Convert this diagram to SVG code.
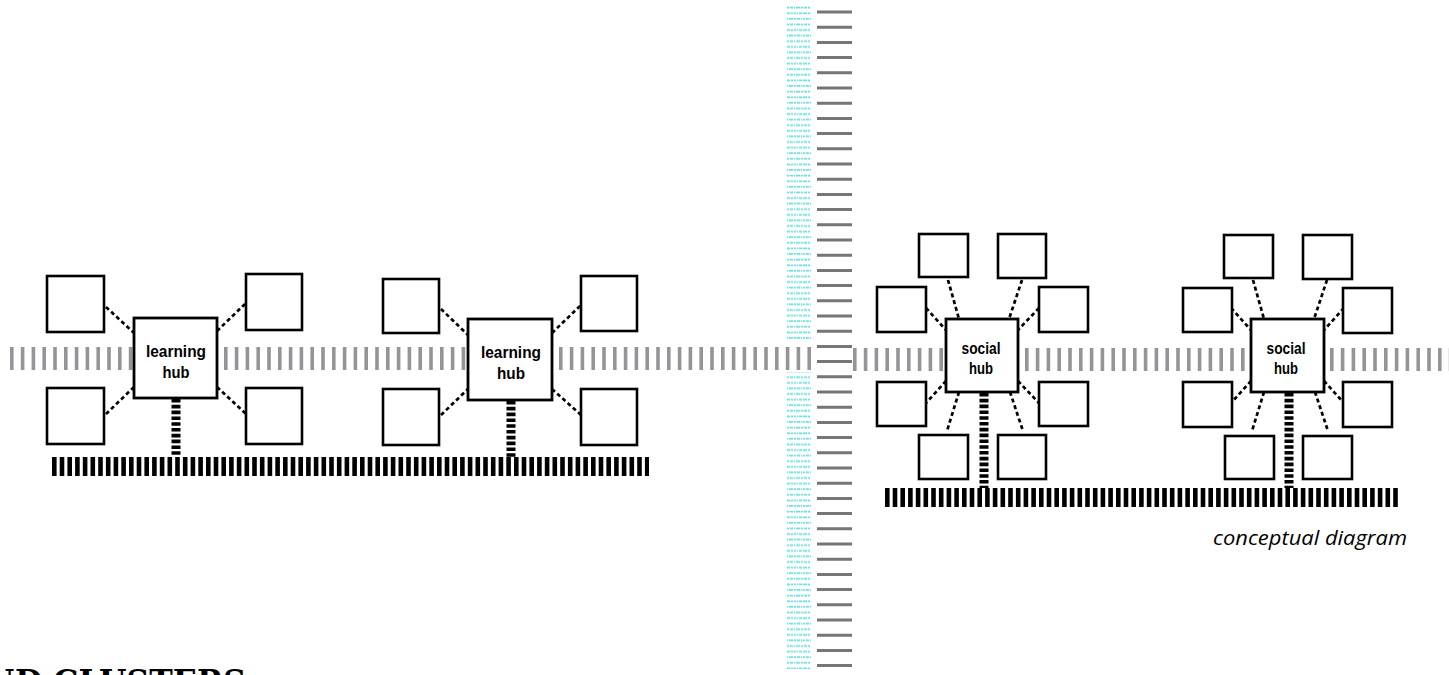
<svg xmlns="http://www.w3.org/2000/svg" width="1449" height="675" viewBox="0 0 1449 675">
<style>
.box{fill:#fff;stroke:#000;stroke-width:2.6}
.hub{fill:#fff;stroke:#000;stroke-width:2.8}
.dash{stroke:#000;stroke-width:2.7;stroke-dasharray:4 3;fill:none}
.thick{stroke:#000;stroke-width:9;stroke-dasharray:3.6 2.2;fill:none}
.band{stroke:#969399;stroke-width:23;stroke-dasharray:3.6 7.2;fill:none}
.base{stroke:#000;stroke-width:19;stroke-dasharray:4.6 3.1;fill:none}
.midg{stroke:#76767a;stroke-width:35;stroke-dasharray:3 12.2;fill:none}
.lbl{font-family:"Liberation Sans Narrow","Liberation Sans",Arial,sans-serif;font-weight:bold;font-size:17px;fill:#000;text-anchor:middle}
.cap{font-family:"Open Sans","Liberation Sans",sans-serif;font-style:italic;font-size:20px;fill:#000}
.title{font-family:"DejaVu Serif","Liberation Serif",serif;font-weight:bold;font-size:32px;fill:#000}
.cy{stroke:#5fe2ea;stroke-width:1.8}
</style>
<defs>
<pattern id="cyanTxt" patternUnits="userSpaceOnUse" x="787" y="6" width="26" height="16.8">
<line class="cy" x1="0" y1="1.6" x2="25" y2="1.6" stroke-dasharray="2 1 3 1 1 1 4 1 2 1 3 1 2"/>
<line class="cy" x1="0" y1="7.2" x2="23" y2="7.2" stroke-dasharray="3 1 2 1 2 1 1 1 3 1 4 1 2"/>
<line class="cy" x1="0" y1="12.8" x2="26" y2="12.8" stroke-dasharray="1 1 4 1 2 1 3 1 1 1 2 1 3"/>
</pattern>
</defs>

<g id="background-bands">
<line class="band" x1="10" y1="358.5" x2="134" y2="358.5"/>
<line class="band" x1="224" y1="358.5" x2="468" y2="358.5"/>
<line class="band" x1="559" y1="358.5" x2="812" y2="358.5"/>
<line class="band" x1="853" y1="359.5" x2="946" y2="359.5"/>
<line class="band" x1="1025" y1="359.5" x2="1251" y2="359.5"/>
<line class="band" x1="1330" y1="359.5" x2="1449" y2="359.5"/>
<line class="base" x1="52" y1="466.5" x2="649" y2="466.5"/>
<line class="base" x1="885" y1="497.5" x2="1399" y2="497.5"/>
</g>

<g id="middle-column">
<rect x="787" y="6" width="26" height="335" fill="url(#cyanTxt)"/>
<rect x="787" y="372" width="26" height="297" fill="url(#cyanTxt)"/>
<line class="midg" x1="834.5" y1="10.5" x2="834.5" y2="668"/>
</g>

<g id="connectors">
<line class="dash" x1="106" y1="307" x2="134" y2="333"/>
<line class="dash" x1="217" y1="331" x2="246" y2="303"/>
<line class="dash" x1="106" y1="414" x2="134" y2="387"/>
<line class="dash" x1="217" y1="387" x2="246" y2="414"/>
<line class="thick" x1="176" y1="399" x2="176" y2="457"/>
<line class="dash" x1="441" y1="309" x2="468" y2="335"/>
<line class="dash" x1="552" y1="333" x2="581" y2="305"/>
<line class="dash" x1="441" y1="415" x2="468" y2="389"/>
<line class="dash" x1="552" y1="389" x2="581" y2="415"/>
<line class="thick" x1="511" y1="401" x2="511" y2="457"/>
<line class="dash" x1="948" y1="280" x2="959" y2="319"/>
<line class="dash" x1="1022" y1="280" x2="1009" y2="319"/>
<line class="dash" x1="926" y1="308" x2="946" y2="330"/>
<line class="dash" x1="1039" y1="308" x2="1018" y2="330"/>
<line class="dash" x1="946" y1="381" x2="926" y2="403"/>
<line class="dash" x1="1018" y1="381" x2="1039" y2="403"/>
<line class="dash" x1="959" y1="392" x2="947" y2="431"/>
<line class="dash" x1="1010" y1="392" x2="1023" y2="431"/>
<line class="thick" x1="984" y1="393" x2="984" y2="488"/>
<line class="dash" x1="1253" y1="280" x2="1264" y2="319"/>
<line class="dash" x1="1327" y1="280" x2="1314" y2="319"/>
<line class="dash" x1="1231" y1="308" x2="1251" y2="330"/>
<line class="dash" x1="1344" y1="308" x2="1324" y2="330"/>
<line class="dash" x1="1251" y1="381" x2="1231" y2="403"/>
<line class="dash" x1="1324" y1="381" x2="1344" y2="403"/>
<line class="dash" x1="1264" y1="392" x2="1252" y2="431"/>
<line class="dash" x1="1315" y1="392" x2="1328" y2="431"/>
<line class="thick" x1="1289" y1="393" x2="1289" y2="488"/>
</g>

<g id="learning-hub-1">
<rect class="hub" x="134" y="318" width="83" height="80"/>
<text class="lbl" x="176" y="357" textLength="60" lengthAdjust="spacingAndGlyphs">learning</text>
<text class="lbl" x="176" y="378" textLength="27" lengthAdjust="spacingAndGlyphs">hub</text>
</g>
<g id="c1-tl"><rect class="box" x="47" y="276" width="57" height="56"/></g>
<g id="c1-tr"><rect class="box" x="246" y="274" width="56" height="56"/></g>
<g id="c1-bl"><rect class="box" x="47" y="388" width="57" height="56"/></g>
<g id="c1-br"><rect class="box" x="246" y="388" width="56" height="56"/></g>

<g id="learning-hub-2">
<rect class="hub" x="468" y="319" width="84" height="81"/>
<text class="lbl" x="511" y="358" textLength="60" lengthAdjust="spacingAndGlyphs">learning</text>
<text class="lbl" x="511" y="379" textLength="28" lengthAdjust="spacingAndGlyphs">hub</text>
</g>
<g id="c2-tl"><rect class="box" x="383" y="279" width="56" height="54"/></g>
<g id="c2-tr"><rect class="box" x="581" y="276" width="56" height="55"/></g>
<g id="c2-bl"><rect class="box" x="383" y="389" width="56" height="56"/></g>
<g id="c2-br"><rect class="box" x="581" y="389" width="56" height="56"/></g>

<g id="social-hub-1">
<rect class="hub" x="946" y="319" width="72" height="73"/>
<text class="lbl" x="981" y="354" font-size="16" textLength="39" lengthAdjust="spacingAndGlyphs">social</text>
<text class="lbl" x="981" y="374" font-size="16" textLength="24" lengthAdjust="spacingAndGlyphs">hub</text>
</g>
<g id="c3-t1"><rect class="box" x="919" y="234" width="49" height="43"/></g>
<g id="c3-t2"><rect class="box" x="998" y="234" width="48" height="44"/></g>
<g id="c3-l1"><rect class="box" x="877" y="287" width="49" height="45"/></g>
<g id="c3-r1"><rect class="box" x="1039" y="287" width="49" height="45"/></g>
<g id="c3-l2"><rect class="box" x="877" y="382" width="49" height="44"/></g>
<g id="c3-r2"><rect class="box" x="1039" y="382" width="49" height="44"/></g>
<g id="c3-b1"><rect class="box" x="919" y="435" width="49" height="44"/></g>
<g id="c3-b2"><rect class="box" x="998" y="435" width="48" height="44"/></g>

<g id="social-hub-2">
<rect class="hub" x="1251" y="319" width="73" height="73"/>
<text class="lbl" x="1286" y="354" font-size="16" textLength="39" lengthAdjust="spacingAndGlyphs">social</text>
<text class="lbl" x="1286" y="374" font-size="16" textLength="24" lengthAdjust="spacingAndGlyphs">hub</text>
</g>
<g id="c4-t1"><rect class="box" x="1224" y="235" width="49" height="43"/></g>
<g id="c4-t2"><rect class="box" x="1303" y="235" width="49" height="44"/></g>
<g id="c4-l1"><rect class="box" x="1183" y="288" width="49" height="44"/></g>
<g id="c4-r1"><rect class="box" x="1343" y="288" width="49" height="45"/></g>
<g id="c4-l2"><rect class="box" x="1183" y="382" width="49" height="45"/></g>
<g id="c4-r2"><rect class="box" x="1343" y="382" width="49" height="45"/></g>
<g id="c4-b1"><rect class="box" x="1225" y="436" width="49" height="43"/></g>
<g id="c4-b2"><rect class="box" x="1303" y="436" width="49" height="43"/></g>

<g id="caption">
<text class="cap" x="1213" y="545" textLength="194" lengthAdjust="spacingAndGlyphs">conceptual diagram</text>
</g>
<g id="title">
<text class="title" x="-14" y="692" textLength="260" lengthAdjust="spacingAndGlyphs">ND CLUSTERS</text>
</g>
</svg>
